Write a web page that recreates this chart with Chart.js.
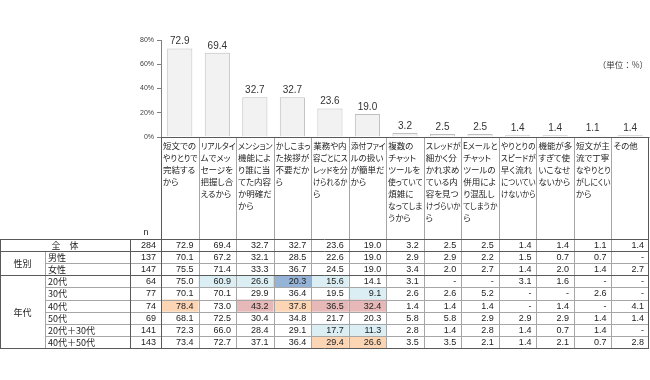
<!DOCTYPE html>
<html><head><meta charset="utf-8">
<script src="https://cdn.jsdelivr.net/npm/chart.js@4.4.1/dist/chart.umd.min.js"></script>
<style>
html,body{margin:0;padding:0;background:#fff;}
#wrap{width:650px;height:380px;position:relative;overflow:hidden;}
.cat{position:absolute;font-family:"Noto Sans CJK JP",sans-serif;font-size:8.5px;line-height:12px;color:#222;font-feature-settings:"palt";}
.cat span{display:block;width:max-content;white-space:pre;transform-origin:0 50%;}
</style>
</head><body>
<div id="wrap"><canvas id="c" width="650" height="380"></canvas></div>
<script>
// ---- data ----
const categoryLabels = [
  ['短文での','やりとりで','完結する','から'],
  ['リアルタイ','ムでメッ','セージを','把握し合','えるから'],
  ['メンション','機能によ','り誰に当','てた内容','か明確だ','から'],
  ['かしこまっ','た挨拶が','不要だか','ら'],
  ['業務や内','容ごとにス','レッドを分','けられるか','ら'],
  ['添付ファイ','ルの扱い','が簡単だ','から'],
  ['複数の','チャット','ツールを','使っていて','煩雑に','なってしま','うから'],
  ['スレッドが','細かく分','かれ求め','ている内','容を見つ','けづらいか','ら'],
  ['Eメールと','チャット','ツールの','併用によ','り混乱し','てしまうか','ら'],
  ['やりとりの','スピードが','早く流れ','についてい','けないから'],
  ['機能が多','すぎて使','いこなせ','ないから'],
  ['短文が主','流で丁寧','なやりとり','がしにくい','から'],
  ['その他']
];
const overallValues = [72.9,69.4,32.7,32.7,23.6,19.0,3.2,2.5,2.5,1.4,1.4,1.1,1.4];
const yTickLabels = ['0%','20%','40%','60%','80%'];
const unitLabel = '（単位：%）';
const nHeader = 'n';

const groupNames = ['性別','年代'];
const rowLabels = ['全　体','男性','女性','20代','30代','40代','50代','20代＋30代','40代＋50代'];
const rowGroup = [-1,0,0,1,1,1,1,1,1];
const rowN = [284,137,147,64,77,74,69,141,143];

const rowTotal   = [72.9,69.4,32.7,32.7,23.6,19.0,3.2,2.5,2.5,1.4,1.4,1.1,1.4];
const rowMale    = [70.1,67.2,32.1,28.5,22.6,19.0,2.9,2.9,2.2,1.5,0.7,0.7,null];
const rowFemale  = [75.5,71.4,33.3,36.7,24.5,19.0,3.4,2.0,2.7,1.4,2.0,1.4,2.7];
const row20s     = [75.0,60.9,26.6,20.3,15.6,14.1,3.1,null,null,3.1,1.6,null,null];
const row30s     = [70.1,70.1,29.9,36.4,19.5,9.1,2.6,2.6,5.2,null,null,2.6,null];
const row40s     = [78.4,73.0,43.2,37.8,36.5,32.4,1.4,1.4,1.4,null,1.4,null,4.1];
const row50s     = [68.1,72.5,30.4,34.8,21.7,20.3,5.8,5.8,2.9,2.9,2.9,1.4,1.4];
const row20s30s  = [72.3,66.0,28.4,29.1,17.7,11.3,2.8,1.4,2.8,1.4,0.7,1.4,null];
const row40s50s  = [73.4,72.7,37.1,36.4,29.4,26.6,3.5,3.5,2.1,1.4,2.1,0.7,2.8];
const tableRows = [rowTotal,rowMale,rowFemale,row20s,row30s,row40s,row50s,row20s30s,row40s50s];

// highlight codes: lb = light blue, b = blue, o = orange, p = pink
const hlNone   = ['','','','','','','','','','','','',''];
const hl20s    = ['','lb','lb','b','lb','','','','','','','',''];
const hl30s    = ['','','','','','lb','','','','','','',''];
const hl40s    = ['o','','p','o','p','p','','','','','','',''];
const hl2030   = ['','','','','lb','lb','','','','','','',''];
const hl4050   = ['','','','','o','o','','','','','','',''];
const tableHighlights = [hlNone,hlNone,hlNone,hl20s,hl30s,hl40s,hlNone,hl2030,hl4050];
const hlColors = {lb:'#daeef3', b:'#95b3d7', o:'#fcd5b4', p:'#e6b8b7'};

// ---- layout constants ----
const TABLE_TOP = 239, TABLE_BOTTOM = 348;
const ROW_H = (TABLE_BOTTOM - TABLE_TOP) / tableRows.length;
const GROUP_X = 45, LABEL_X2 = 130;
const NUM_FONT = '9px "Liberation Sans", Arial, sans-serif';
const JP_FONT = '9px "Noto Sans CJK JP", sans-serif';

const tablePlugin = {
  id: 'tablePlugin',
  afterDraw(chart) {
    const ctx = chart.ctx, xs = chart.scales.x, area = chart.chartArea;
    const n = overallValues.length;
    const colW = xs.getPixelForValue(1) - xs.getPixelForValue(0);
    const edge = i => xs.getPixelForValue(i) - colW / 2;
    const rowTop = r => TABLE_TOP + r * ROW_H;
    const px = v => Math.round(v) + 0.5;
    ctx.save();

    // value labels above bars
    const meta = chart.getDatasetMeta(0);
    ctx.font = '10px "Liberation Sans", Arial, sans-serif';
    ctx.fillStyle = '#333';
    ctx.textAlign = 'center';
    ctx.textBaseline = 'bottom';
    meta.data.forEach((bar, i) => {
      ctx.fillText(overallValues[i].toFixed(1), bar.x, bar.y - 2);
    });

    // unit label
    ctx.font = '8.5px "Noto Sans CJK JP", sans-serif';
    ctx.textAlign = 'right';
    ctx.textBaseline = 'middle';
    ctx.fillStyle = '#404040';
    ctx.fillText(unitLabel, 648, 65);

    // cell backgrounds
    tableRows.forEach((row, r) => {
      row.forEach((v, c) => {
        const h = tableHighlights[r][c];
        if (h) {
          ctx.fillStyle = hlColors[h];
          ctx.fillRect(edge(c), rowTop(r), colW, ROW_H);
        }
      });
    });

    // grid lines
    ctx.lineWidth = 1;
    ctx.strokeStyle = '#a6a6a6';
    ctx.beginPath();
    for (let i = 1; i < n; i++) {
      const x = px(edge(i));
      ctx.moveTo(x, area.bottom); ctx.lineTo(x, TABLE_BOTTOM);
    }
    for (let r = 1; r < tableRows.length; r++) {
      if (rowGroup[r] === rowGroup[r - 1]) {
        const y = px(rowTop(r));
        ctx.moveTo(GROUP_X, y); ctx.lineTo(area.right, y);
      }
    }
    ctx.moveTo(px(GROUP_X), px(rowTop(1))); ctx.lineTo(px(GROUP_X), TABLE_BOTTOM);
    ctx.stroke();

    ctx.strokeStyle = '#595959';
    ctx.beginPath();
    ctx.moveTo(px(area.left), px(area.bottom)); ctx.lineTo(px(area.right), px(area.bottom));
    ctx.moveTo(px(area.left), px(area.bottom)); ctx.lineTo(px(area.left), TABLE_BOTTOM);
    ctx.moveTo(px(area.right) - 1, px(area.bottom)); ctx.lineTo(px(area.right) - 1, TABLE_BOTTOM);
    for (let r = 0; r <= tableRows.length; r++) {
      if (r === 0 || r === tableRows.length || rowGroup[r] !== rowGroup[r - 1]) {
        const y = px(rowTop(r));
        ctx.moveTo(0, y); ctx.lineTo(area.right, y);
      }
    }
    ctx.moveTo(0.5, TABLE_TOP); ctx.lineTo(0.5, TABLE_BOTTOM);
    ctx.moveTo(px(LABEL_X2), TABLE_TOP); ctx.lineTo(px(LABEL_X2), TABLE_BOTTOM);
    ctx.stroke();

    // n header
    ctx.fillStyle = '#222';
    ctx.font = NUM_FONT;
    ctx.textAlign = 'center';
    ctx.textBaseline = 'middle';
    ctx.fillText(nHeader, 146, 233);

    // row labels and values
    tableRows.forEach((row, r) => {
      const yc = rowTop(r) + ROW_H / 2 + 0.5;
      ctx.fillStyle = '#222';
      ctx.font = JP_FONT;
      if (rowGroup[r] < 0) {
        ctx.textAlign = 'center';
        ctx.fillText(rowLabels[r], LABEL_X2 / 2, yc);
      } else {
        ctx.textAlign = 'left';
        ctx.fillText(rowLabels[r], GROUP_X + 3, yc);
      }
      ctx.font = NUM_FONT;
      ctx.textAlign = 'right';
      ctx.fillText(String(rowN[r]), area.left - 5, yc);
      row.forEach((v, c) => {
        ctx.fillText(v === null ? '-' : v.toFixed(1), edge(c) + colW - 5, yc);
      });
    });
    ctx.font = JP_FONT;
    ctx.textAlign = 'center';
    groupNames.forEach((g, gi) => {
      const rs = rowGroup.map((x, i) => x === gi ? i : -1).filter(i => i >= 0);
      const y0 = rowTop(rs[0]), y1 = rowTop(rs[rs.length - 1] + 1);
      ctx.fillText(g, GROUP_X / 2, (y0 + y1) / 2 + 0.5);
    });
    ctx.restore();

    // category labels (HTML text, positioned via the x scale)
    const wrap = document.getElementById('wrap');
    if (!wrap.querySelector('.cat')) {
      const maxW = colW - 3;
      categoryLabels.forEach((lines, i) => {
        const d = document.createElement('div');
        d.className = 'cat';
        d.style.left = (edge(i) + 2) + 'px';
        d.style.top = (area.bottom + 2) + 'px';
        lines.forEach(t => {
          const s = document.createElement('span');
          s.textContent = t;
          d.appendChild(s);
        });
        wrap.appendChild(d);
        d.querySelectorAll('span').forEach(s => {
          const w = s.getBoundingClientRect().width;
          if (w > maxW) s.style.transform = 'scaleX(' + (maxW / w).toFixed(3) + ')';
        });
      });
    }
  }
};

new Chart(document.getElementById('c'), {
  type: 'bar',
  data: {
    labels: categoryLabels.map(l => l.join('')),
    datasets: [{
      data: overallValues,
      backgroundColor: '#f2f2f2',
      borderColor: '#bfbfbf',
      borderWidth: 1,
      categoryPercentage: 1,
      barPercentage: 0.67
    }]
  },
  options: {
    responsive: false,
    animation: false,
    devicePixelRatio: 1,
    layout: { padding: { left: 0, right: 1, top: 40, bottom: 243 } },
    plugins: { legend: { display: false }, tooltip: { enabled: false } },
    scales: {
      x: { display: false },
      y: {
        min: 0, max: 80,
        ticks: {
          stepSize: 20,
          padding: 3,
          color: '#404040',
          font: { size: 7, family: '"Liberation Sans", Arial, sans-serif' },
          callback: v => yTickLabels[v / 20]
        },
        grid: { drawOnChartArea: false, drawTicks: true, tickLength: 4, color: '#808080' },
        border: { color: '#808080' },
        afterFit: s => { s.width = 161; }
      }
    }
  },
  plugins: [tablePlugin]
});
</script>
</body></html>
